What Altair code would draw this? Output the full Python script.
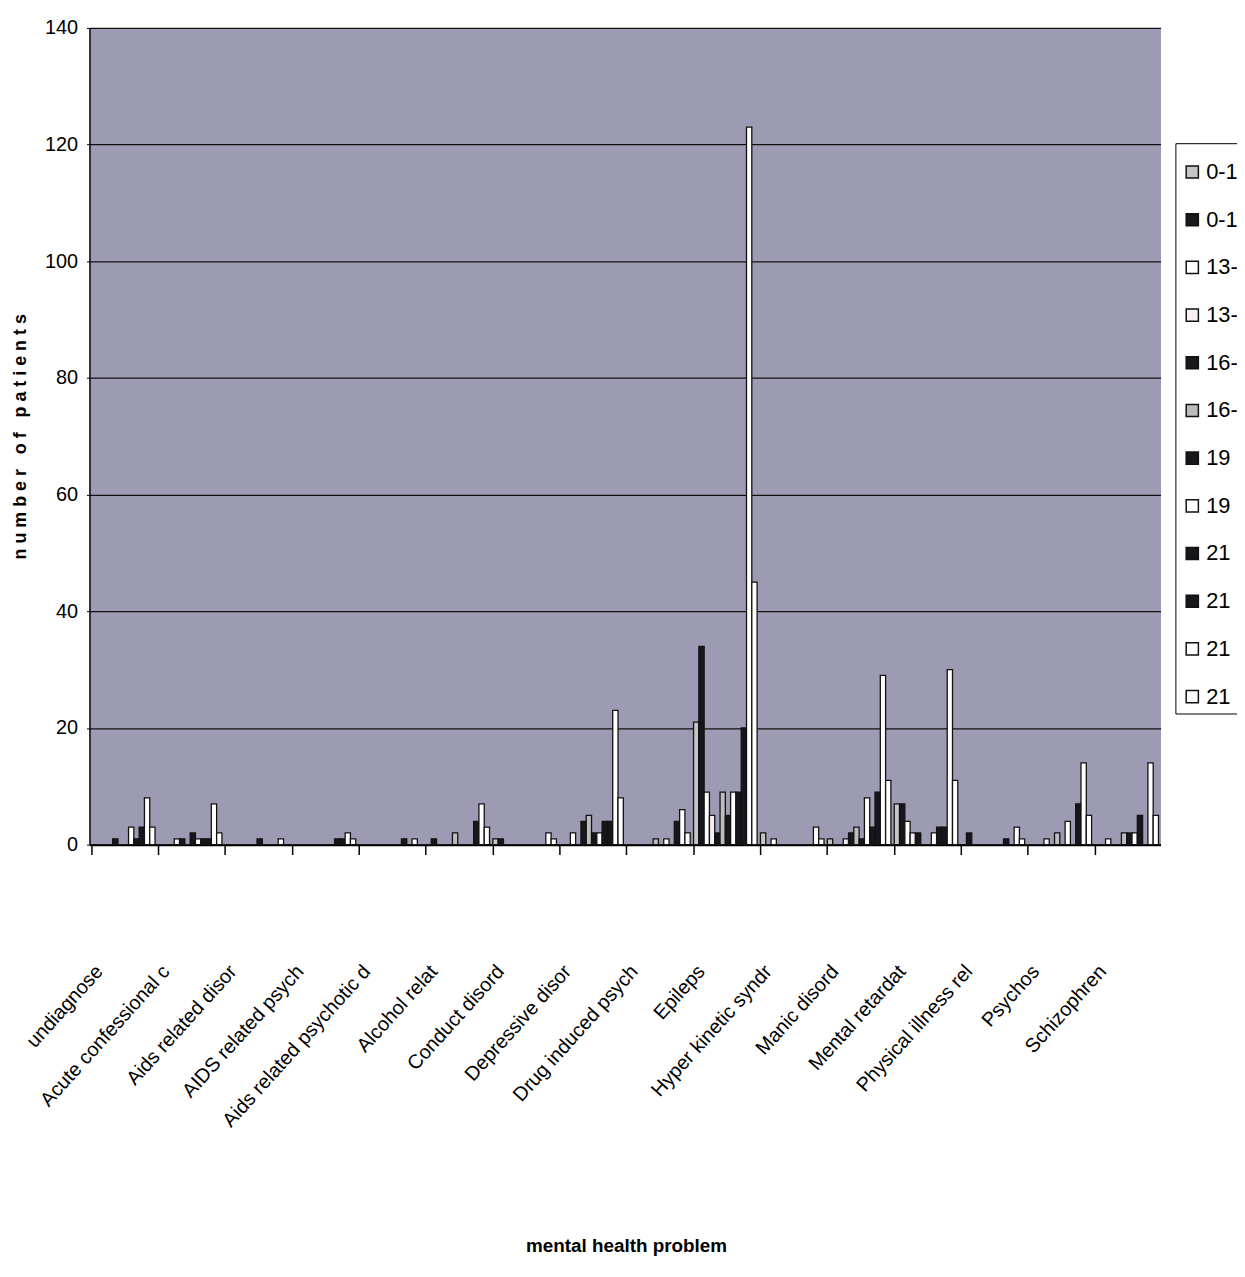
import altair as alt
import pandas as pd

# ---- data ----
categories = ["undiagnose", "Acute confessional c", "Aids related disor", "AIDS related psych",
              "Aids related psychotic d", "Alcohol relat", "Conduct disord", "Depressive disor",
              "Drug induced psych", "Epileps", "Hyper kinetic syndr", "Manic disord",
              "Mental retardat", "Physical illness rel", "Psychos", "Schizophren"]

series_labels = ["0-1", "0-1", "13-", "13-", "16-", "16-", "19", "19", "21", "21", "21", "21"]
series_keys = [f"{lab} #{k + 1}" for k, lab in enumerate(series_labels)]

s01 = [0, 0, 0, 0, 0, 0, 1, 0, 0, 21, 2, 1, 7, 0, 0, 0]
s02 = [0, 0, 0, 0, 0, 1, 1, 0, 0, 34, 0, 0, 7, 2, 0, 0]
s03 = [0, 0, 0, 0, 0, 0, 0, 2, 0, 9, 1, 0, 4, 0, 0, 1]
s04 = [0, 1, 0, 0, 0, 0, 0, 0, 0, 5, 0, 1, 2, 0, 1, 0]
s05 = [1, 1, 0, 0, 0, 0, 0, 4, 0, 2, 0, 2, 2, 0, 0, 0]
s06 = [0, 0, 0, 0, 0, 2, 0, 5, 1, 9, 0, 3, 0, 0, 2, 2]
s07 = [0, 2, 1, 0, 0, 0, 0, 2, 0, 5, 0, 1, 0, 0, 0, 2]
s08 = [3, 1, 0, 0, 0, 0, 0, 2, 1, 9, 0, 8, 2, 0, 4, 2]
s09 = [1, 1, 0, 1, 1, 0, 0, 4, 0, 9, 0, 3, 3, 1, 0, 5]
s10 = [3, 1, 0, 1, 0, 4, 0, 4, 4, 20, 0, 9, 3, 0, 7, 0]
s11 = [8, 7, 1, 2, 1, 7, 2, 23, 6, 123, 3, 29, 30, 3, 14, 14]
s12 = [3, 2, 0, 1, 0, 3, 1, 8, 2, 45, 1, 11, 11, 1, 5, 5]
series_values = [s01, s02, s03, s04, s05, s06, s07, s08, s09, s10, s11, s12]

series_fills = ["#c6c6c6", "#16161c", "#ffffff", "#f7eff4", "#16161c", "#bdbdbd",
                "#16161c", "#ffffff", "#16161c", "#16161c", "#ffffff", "#ffffff"]

y_ticks = [0, 20, 40, 60, 80, 100, 120, 140]

rows = []
for key, vals in zip(series_keys, series_values):
    for cat, v in zip(categories, vals):
        rows.append({"problem": cat, "series": key, "patients": v})
df = pd.DataFrame(rows)

SANS = "Liberation Sans, Arial, sans-serif"

y_title = "n u m b e r\u00a0 \u00a0o f\u00a0 \u00a0p a t i e n t s"

chart = alt.Chart(df).transform_filter("datum.patients > 0").mark_bar(
    stroke="#121212", strokeWidth=1.3
).encode(
    x=alt.X(
        "problem:N",
        sort=categories,
        title="mental health problem",
        scale=alt.Scale(domain=categories, paddingInner=0.05, paddingOuter=0.03),
        axis=alt.Axis(
            labelAngle=-48, labelAlign="right", labelBaseline="middle",
            labelFont=SANS, labelFontSize=20, labelColor="black",
            labelPadding=114, labelOffset=-24, labelLimit=400, labelOverlap=False,
            bandPosition=0, tickSize=10, tickColor="black", tickWidth=1.5,
            domainColor="black", domainWidth=2, grid=False,
            titleFont=SANS, titleFontSize=19, titleFontWeight="bold", titleColor="black",
            titleX=540, titleY=404, titleBaseline="middle", titleAlign="center",
        ),
    ),
    xOffset=alt.XOffset(
        "series:N", sort=series_keys,
        scale=alt.Scale(domain=series_keys, paddingInner=0, paddingOuter=0),
    ),
    y=alt.Y(
        "patients:Q",
        title=y_title,
        scale=alt.Scale(domain=[0, 140], nice=False),
        axis=alt.Axis(
            values=y_ticks, labelFont=SANS, labelFontSize=20, labelColor="black",
            labelPadding=9, tickSize=3, tickColor="black",
            domainColor="black", domainWidth=1.5,
            gridColor="#111111", gridWidth=1.3, gridOpacity=1,
            titleFont=SANS, titleFontSize=18,
            titleFontWeight="bold", titleColor="black",
            titleX=-69, titleY=411, titleAngle=-90, titleAlign="center", titleBaseline="middle",
        ),
    ),
    color=alt.Color(
        "series:N",
        scale=alt.Scale(domain=series_keys, range=series_fills),
        legend=alt.Legend(
            title=" ", orient="none", legendX=1093, legendY=116,
            labelExpr="split(datum.label, ' #')[0]",
            symbolType="square", symbolSize=150, symbolStrokeColor="#111", symbolStrokeWidth=1.5,
            labelFont=SANS, labelFontSize=22, labelColor="black", labelOffset=3,
            rowPadding=26, padding=6, strokeColor="black", fillColor="white",
            titleFontSize=8, titlePadding=4,
        ),
    ),
).properties(
    width=1078,
    height=822,
    autosize=alt.AutoSizeParams(type="none"),
    padding={"left": 82, "top": 16, "right": 77, "bottom": 417},
    background="white",
).configure_view(
    fill="#9d9bb4", strokeOpacity=0
)

chart.save("out.html", embed_options={"renderer": "svg", "actions": False})
